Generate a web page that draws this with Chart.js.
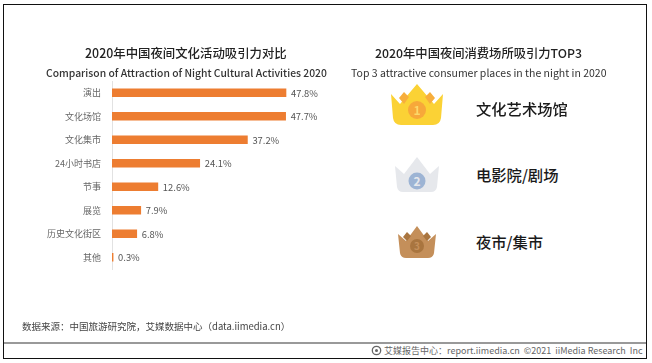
<!DOCTYPE html>
<html><head><meta charset="utf-8">
<style>
html,body{margin:0;padding:0;background:#fff;}
body{width:652px;height:363px;position:relative;overflow:hidden;font-family:"Noto Sans CJK SC","Noto Sans",sans-serif;}
.t{position:absolute;white-space:nowrap;line-height:1;}
#frame{position:absolute;left:3px;top:4px;width:642px;height:353px;border:1.5px solid #111;box-sizing:content-box;}
#rule{position:absolute;left:4px;top:342px;width:642px;height:1.5px;background:#999;}
#c{position:absolute;left:0;top:0;}
svg{position:absolute;}
</style></head><body>
<div id="frame"></div><div id="rule"></div>
<canvas id="c" width="345" height="363"></canvas>
<div class="t" style="left:85px;top:47px;font-size:12.4px;font-weight:500;color:#222">2020年中国夜间文化活动吸引力对比</div>
<div class="t" style="left:46px;top:68px;font-size:10.35px;font-weight:500;color:#333">Comparison of Attraction of Night Cultural Activities 2020</div>
<div class="t" style="left:375px;top:47px;font-size:12.3px;font-weight:500;color:#222">2020年中国夜间消费场所吸引力TOP3</div>
<div class="t" style="left:351px;top:68px;font-size:10.5px;font-weight:400;color:#333">Top 3 attractive consumer places in the night in 2020</div>
<div class="t" style="left:476px;top:100.5px;font-size:15.3px;font-weight:500;color:#1a1a1a">文化艺术场馆</div>
<div class="t" style="left:476px;top:167px;font-size:15.3px;font-weight:500;color:#1a1a1a">电影院/剧场</div>
<div class="t" style="left:476px;top:233.5px;font-size:15.3px;font-weight:500;color:#1a1a1a">夜市/集市</div>
<svg style="left:390px;top:84px" width="54" height="44" viewBox="0 0 54 44">
<path d="M1 10 L10 20 L27 0 L44 20 L53 10 L51 34 Q50 41 43 41 L11 41 Q4 41 3 34 Z" fill="#fbd235"/>
<path d="M14 8 L19 13 L14 20 L9 14 Z M40 8 L45 14 L40 20 L35 13 Z" fill="#f7ae3c"/>
<circle cx="27" cy="26" r="9" fill="#f7a83a"/><text x="27" y="30.5" font-size="12" font-weight="700" fill="#fbd86a" text-anchor="middle">1</text></svg>
<svg style="left:394px;top:157px" width="46" height="37" viewBox="0 0 46 37">
<path d="M1 9 L10 17 L23 0 L36 17 L45 9 L43 30 Q42 35 37 35 L9 35 Q4 35 3 30 Z" fill="#e6e8ec"/>
<circle cx="23" cy="24" r="8.5" fill="#9db4d4"/><text x="23" y="28.5" font-size="12" font-weight="700" fill="#e6e8ec" text-anchor="middle">2</text></svg>
<svg style="left:397px;top:226px" width="40" height="33" viewBox="0 0 40 33">
<path d="M1 8 L9 15 L20 0 L31 15 L39 8 L37 27 Q36 32 31 32 L9 32 Q4 32 3 27 Z" fill="#c48f5a"/>
<path d="M10 6 L14 10 L10 15 L6 11 Z M30 6 L34 11 L30 15 L26 10 Z" fill="#a9753f"/>
<circle cx="20" cy="20" r="7" fill="#a9753f"/><text x="20" y="24" font-size="10" font-weight="700" fill="#c48f5a" text-anchor="middle">3</text></svg>
<div class="t" style="left:22px;top:322px;font-size:9.5px;color:#444">数据来源：中国旅游研究院，艾媒数据中心（data.iimedia.cn）</div>
<div class="t" style="left:384px;top:346px;font-size:9px;color:#666">艾媒报告中心：report.iimedia.cn&nbsp; ©2021&nbsp; iiMedia Research&nbsp; Inc</div>
<svg style="left:371px;top:345px" width="11" height="11" viewBox="0 0 11 11"><circle cx="5.5" cy="5.5" r="4.2" fill="none" stroke="#666" stroke-width="1.3"/><circle cx="5.5" cy="5.5" r="1.5" fill="#666"/></svg>
<script src="https://cdn.jsdelivr.net/npm/chart.js@4/dist/chart.umd.min.js"></script>
<script>
const categories = ["演出","文化场馆","文化集市","24小时书店","节事","展览","历史文化街区","其他"];
const attraction = [47.8,47.7,37.2,24.1,12.6,7.9,6.8,0.3];
const valueSuffix = "%";
const labelFont = '"Noto Sans CJK SC","Noto Sans",sans-serif';
const valueLabels = {
  id:"valueLabels",
  afterDatasetsDraw(chart){
    const {ctx} = chart, meta = chart.getDatasetMeta(0);
    ctx.save();
    ctx.font = "9.4px " + labelFont;
    ctx.fillStyle = "#555";
    ctx.textBaseline = "middle";
    meta.data.forEach((bar,i)=>ctx.fillText(attraction[i].toFixed(1)+valueSuffix, bar.x+5, bar.y+0.5));
    ctx.restore();
  }
};
new Chart(document.getElementById("c"),{
  type:"bar",
  data:{labels:categories,datasets:[{data:attraction,backgroundColor:"#ed7d31",barThickness:8,borderWidth:0}]},
  options:{
    indexAxis:"y",responsive:false,animation:false,
    layout:{padding:{top:81,bottom:94,left:0,right:14.6}},
    plugins:{legend:{display:false},tooltip:{enabled:false}},
    scales:{
      x:{display:false,min:0,max:60},
      y:{afterFit(s){s.width=112;},
         grid:{display:false,drawTicks:false},
         border:{display:true,color:"#e2e2e2",width:1},
         ticks:{color:"#666",font:{size:9,family:labelFont},padding:11,autoSkip:false}}
    }
  },
  plugins:[valueLabels]
});
</script>
</body></html>
